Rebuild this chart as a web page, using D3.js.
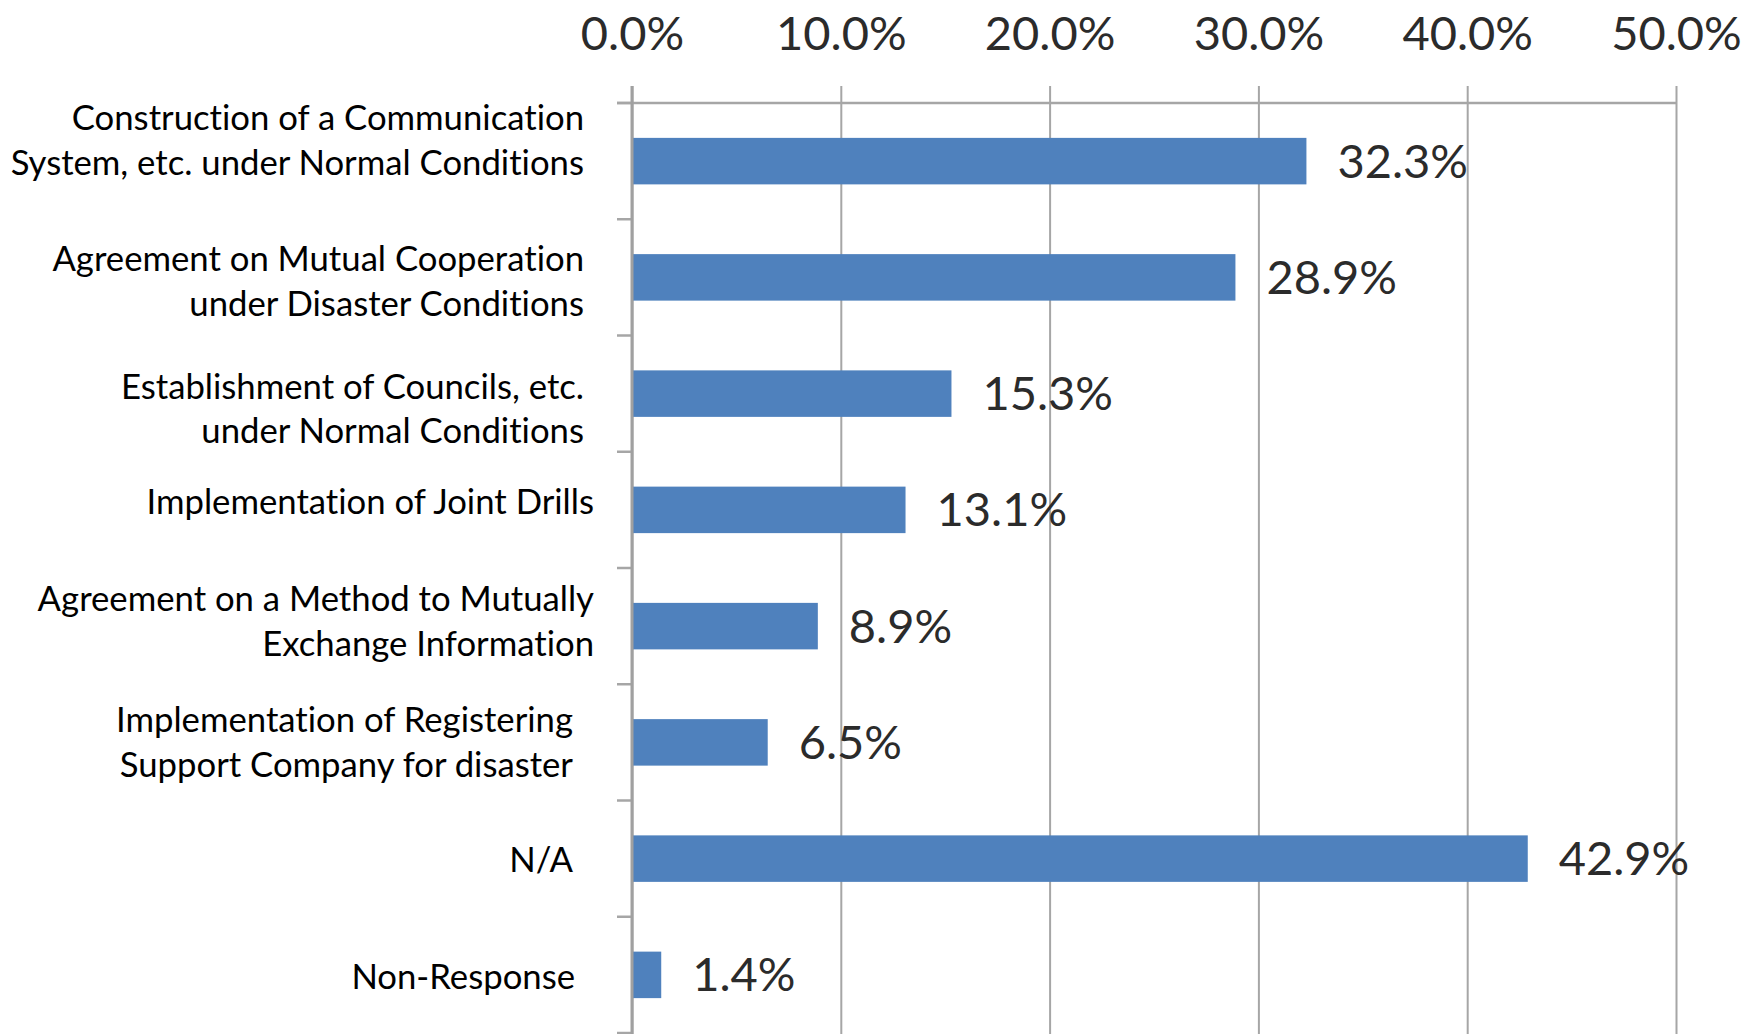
<!DOCTYPE html>
<html>
<head>
<meta charset="utf-8">
<script src="https://cdn.jsdelivr.net/npm/d3@7"></script>
<style>
  html, body { margin: 0; padding: 0; background: #fff; }
  svg { display: block; }
  text { font-variant-ligatures: none; font-feature-settings: "liga" 0, "dlig" 0; }
</style>
</head>
<body>
<svg id="chart" width="1744" height="1034"></svg>
<script>
// ---- data ----
const categories = [
  ["Construction of a Communication", "System, etc. under Normal Conditions"],
  ["Agreement on Mutual Cooperation", "under Disaster Conditions"],
  ["Establishment of Councils, etc.", "under Normal Conditions"],
  ["Implementation of Joint Drills"],
  ["Agreement on a Method to Mutually", "Exchange Information"],
  ["Implementation of Registering", "Support Company for disaster"],
  ["N/A"],
  ["Non-Response"]
];
const values = [32.3, 28.9, 15.3, 13.1, 8.9, 6.5, 42.9, 1.4];
const tickValues = [0, 10, 20, 30, 40, 50];

// ---- layout (label nudges seen in the reference) ----
const labelRight = [584, 584, 584, 594, 594, 573, 573, 575];
const labelShift = [-21, 4, 15, -8, -5, 0, 1, 2];

const FONT = "Lato, 'Open Sans', sans-serif";
const svg = d3.select("#chart");
const keys = categories.map((c, i) => "c" + i);

const x = d3.scaleLinear().domain([0, 50]).range([632, 1676]);
const y = d3.scaleBand().domain(keys).range([103, 1033])
  .paddingInner(0.6).paddingOuter(0.3);

// gridlines + top axis
const axisTop = d3.axisTop(x)
  .tickValues(tickValues)
  .tickFormat(d => d.toFixed(1) + "%")
  .tickSizeOuter(0);
const gAxis = svg.append("g").attr("transform", "translate(0,103)").call(axisTop);
gAxis.select(".domain").remove();
gAxis.selectAll(".tick line")
  .attr("y1", -17).attr("y2", 1034 - 103)
  .attr("stroke", "#a6a6a6").attr("stroke-width", 2);
gAxis.selectAll(".tick text")
  .attr("y", -53).attr("dy", 0)
  .attr("font-family", FONT).attr("font-size", 47)
  .attr("fill", "#2b2b2b");

// top horizontal line
svg.append("line")
  .attr("x1", 617).attr("x2", x(50)).attr("y1", 103).attr("y2", 103)
  .attr("stroke", "#a6a6a6").attr("stroke-width", 2.5);

// category boundary ticks
const step = y.step();
const bounds = d3.range(keys.length + 1).map(i => y.range()[0] + i * step);
svg.append("g").selectAll("line").data(bounds).join("line")
  .attr("x1", 617).attr("x2", x(0))
  .attr("y1", d => d).attr("y2", d => d)
  .attr("stroke", "#a6a6a6").attr("stroke-width", 2.5);

// bars
svg.append("g").selectAll("rect").data(values).join("rect")
  .attr("x", x(0))
  .attr("y", (d, i) => y(keys[i]))
  .attr("width", d => x(d) - x(0))
  .attr("height", y.bandwidth())
  .attr("fill", "#4f81bd");

// zero axis
svg.append("line")
  .attr("x1", x(0)).attr("x2", x(0)).attr("y1", 86).attr("y2", 1034)
  .attr("stroke", "#a0a0a0").attr("stroke-width", 3);

// value labels
svg.append("g").selectAll("text").data(values).join("text")
  .attr("x", d => x(d) + 31)
  .attr("y", (d, i) => y(keys[i]) + y.bandwidth() / 2)
  .attr("dy", "0.35em")
  .attr("font-family", FONT).attr("font-size", 47)
  .attr("fill", "#2b2b2b")
  .text(d => d.toFixed(1) + "%");

// category labels
const lineH = 44.5;
const gLab = svg.append("g");
categories.forEach((lines, i) => {
  const cy = y(keys[i]) + y.bandwidth() / 2 + labelShift[i];
  const t = gLab.append("text")
    .attr("text-anchor", "end")
    .attr("font-family", FONT).attr("font-size", 34.7)
    .attr("fill", "#000");
  lines.forEach((ln, j) => {
    t.append("tspan")
      .attr("x", labelRight[i])
      .attr("y", cy + (j - (lines.length - 1) / 2) * lineH)
      .attr("dy", "0.35em")
      .text(ln);
  });
});
</script>
</body>
</html>
